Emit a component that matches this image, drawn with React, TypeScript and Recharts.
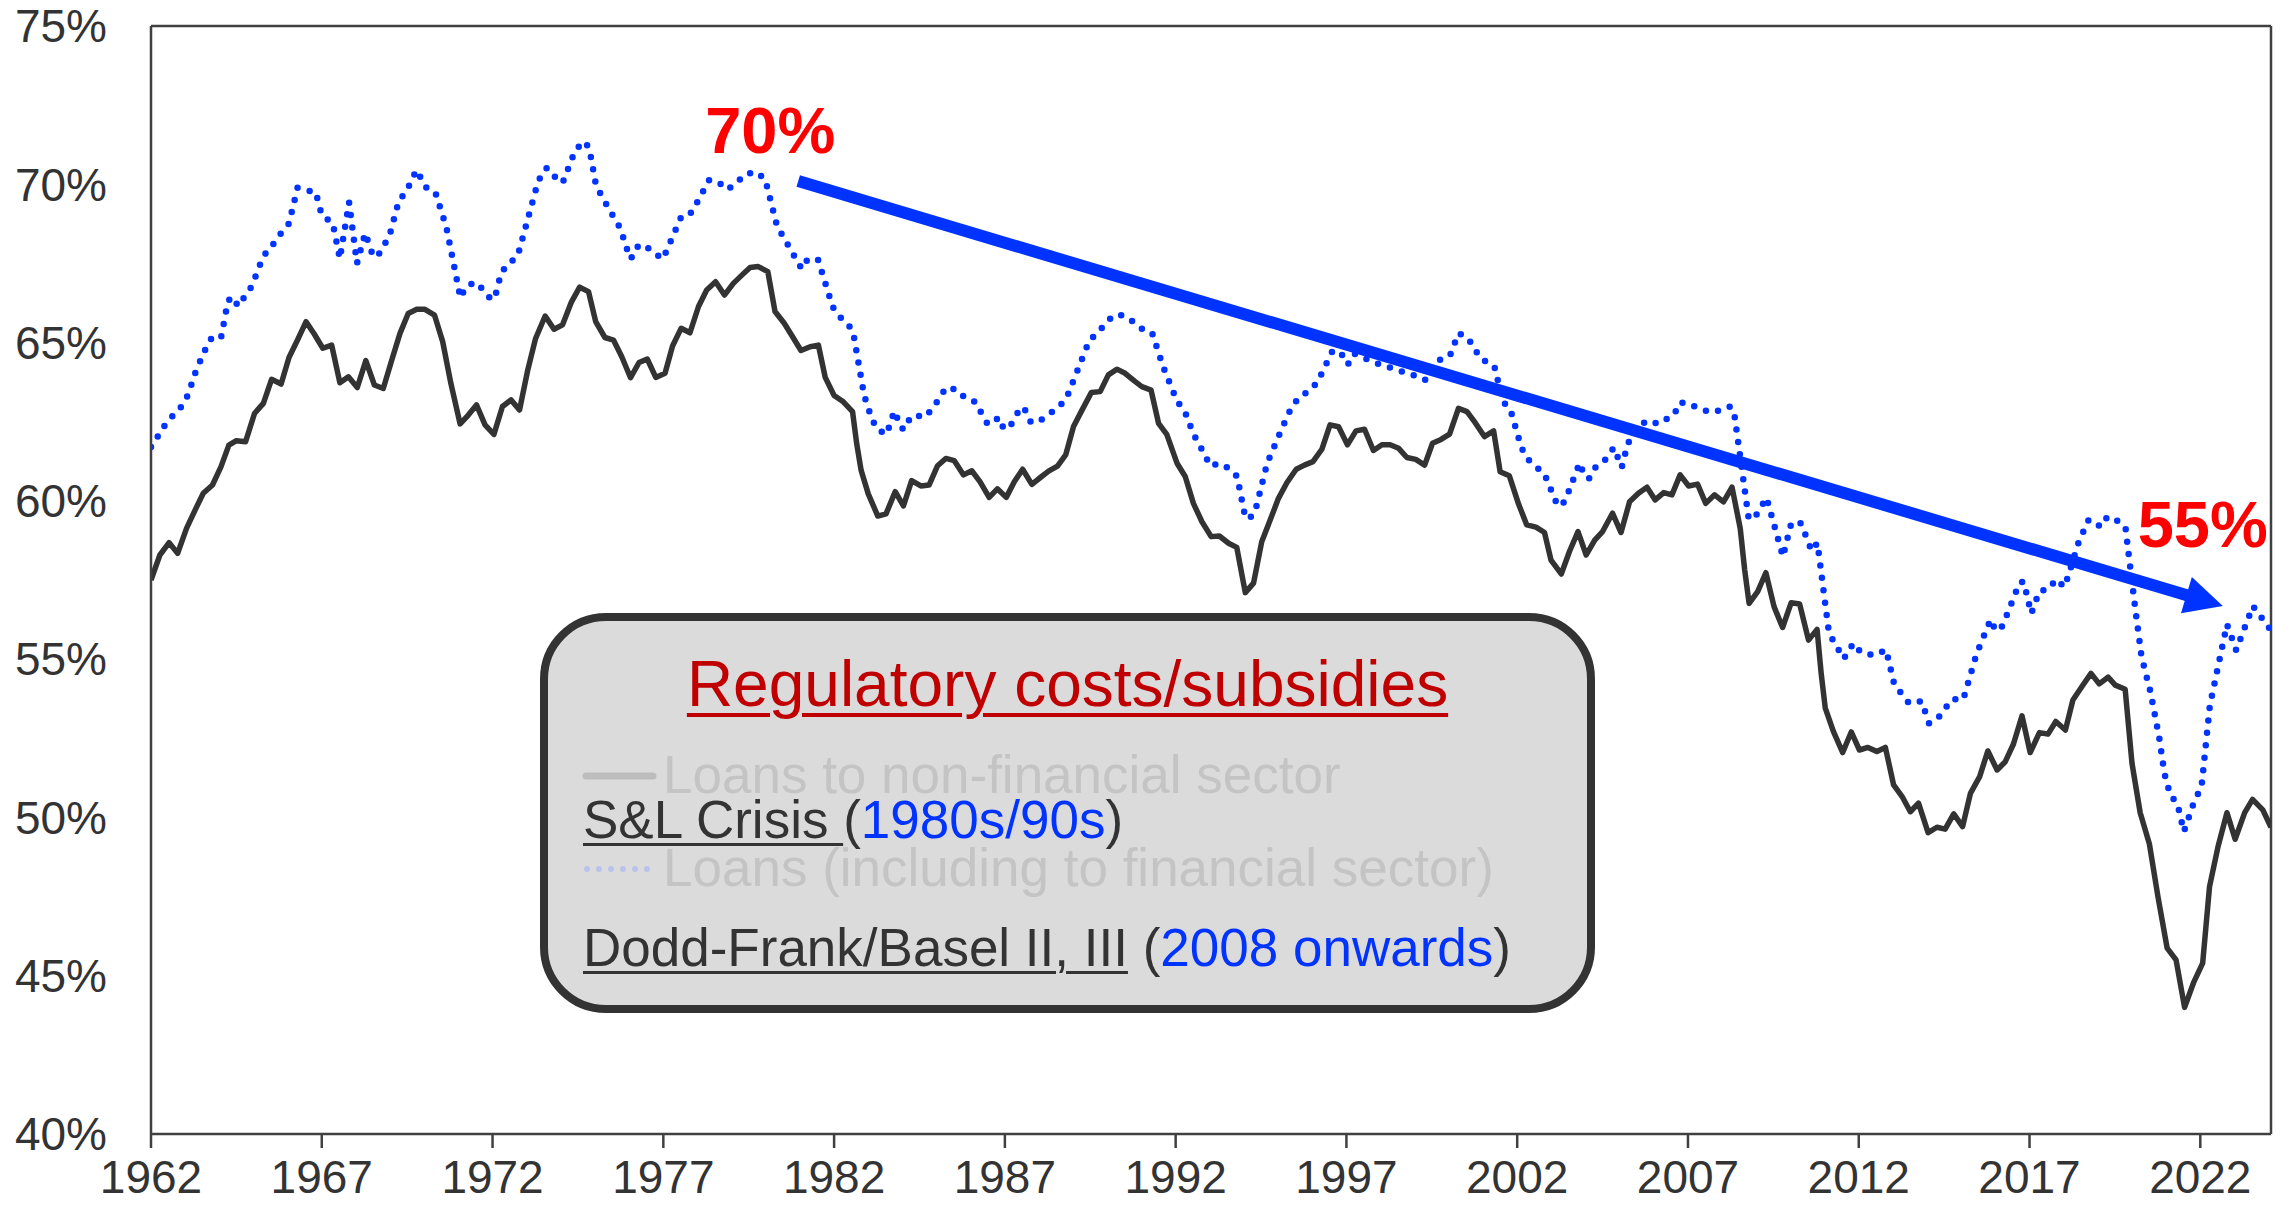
import React from 'react';
import { LineChart, Line, XAxis, YAxis, ReferenceLine, ReferenceDot } from 'recharts';

// Loans to non-financial sector (% of bank assets)
const NONFIN_YEARS = [
  1962.0, 1962.26, 1962.53, 1962.78, 1963.04, 1963.29, 1963.53, 1963.8, 1964.05, 1964.28, 1964.5, 1964.77,
  1965.03, 1965.29, 1965.53, 1965.81, 1966.04, 1966.29, 1966.54, 1966.78, 1967.03, 1967.29, 1967.53, 1967.78,
  1968.04, 1968.29, 1968.54, 1968.8, 1969.05, 1969.29, 1969.53, 1969.78, 1970.02, 1970.3, 1970.54, 1970.78,
  1971.05, 1971.29, 1971.53, 1971.78, 1972.04, 1972.29, 1972.54, 1972.79, 1973.03, 1973.26, 1973.54, 1973.8,
  1974.05, 1974.3, 1974.55, 1974.81, 1975.02, 1975.29, 1975.54, 1975.78, 1976.04, 1976.29, 1976.53, 1976.78,
  1977.05, 1977.27, 1977.52, 1977.78, 1978.03, 1978.27, 1978.53, 1978.79, 1979.05, 1979.3, 1979.54, 1979.78,
  1980.06, 1980.27, 1980.54, 1980.78, 1981.03, 1981.3, 1981.54, 1981.74, 1982.0, 1982.27, 1982.54, 1982.66,
  1982.79, 1983.0, 1983.28, 1983.52, 1983.79, 1984.03, 1984.27, 1984.54, 1984.78, 1985.03, 1985.27, 1985.52,
  1985.79, 1986.03, 1986.27, 1986.54, 1986.78, 1987.04, 1987.28, 1987.52, 1987.79, 1988.03, 1988.28, 1988.54,
  1988.78, 1989.01, 1989.25, 1989.53, 1989.79, 1990.03, 1990.28, 1990.52, 1990.79, 1991.01, 1991.28, 1991.5,
  1991.74, 1992.04, 1992.28, 1992.52, 1992.77, 1993.04, 1993.28, 1993.55, 1993.79, 1994.04, 1994.28, 1994.52,
  1994.77, 1995.01, 1995.26, 1995.53, 1995.77, 1996.02, 1996.28, 1996.52, 1996.77, 1997.03, 1997.28, 1997.53,
  1997.79, 1998.04, 1998.28, 1998.53, 1998.77, 1999.03, 1999.29, 1999.52, 1999.77, 2000.02, 2000.28, 2000.53,
  2000.77, 2001.04, 2001.31, 2001.5, 2001.77, 2002.04, 2002.28, 2002.55, 2002.8, 2002.99, 2003.29, 2003.53,
  2003.78, 2004.02, 2004.27, 2004.5, 2004.79, 2005.04, 2005.29, 2005.55, 2005.8, 2006.04, 2006.29, 2006.53,
  2006.77, 2007.02, 2007.28, 2007.52, 2007.78, 2008.04, 2008.29, 2008.53, 2008.66, 2008.79, 2009.04, 2009.28,
  2009.52, 2009.77, 2010.02, 2010.27, 2010.53, 2010.78, 2010.9, 2011.02, 2011.26, 2011.53, 2011.78, 2012.02,
  2012.27, 2012.53, 2012.78, 2013.02, 2013.27, 2013.51, 2013.75, 2014.03, 2014.29, 2014.53, 2014.78, 2015.04,
  2015.27, 2015.54, 2015.78, 2016.05, 2016.29, 2016.53, 2016.78, 2017.02, 2017.29, 2017.54, 2017.77, 2018.05,
  2018.27, 2018.53, 2018.8, 2019.04, 2019.3, 2019.51, 2019.8, 2020.0, 2020.24, 2020.51, 2020.76, 2021.03,
  2021.29, 2021.54, 2021.81, 2022.07, 2022.27, 2022.52, 2022.78, 2023.02, 2023.3, 2023.53, 2023.83, 2024.07,
];
const NONFIN_VALUES = [
  57.5, 58.29, 58.68, 58.34, 59.13, 59.71, 60.24, 60.5, 61.08, 61.76, 61.9, 61.87,
  62.76, 63.08, 63.84, 63.69, 64.53, 65.08, 65.66, 65.27, 64.82, 64.92, 63.73, 63.92,
  63.58, 64.43, 63.66, 63.55, 64.45, 65.29, 65.92, 66.05, 66.05, 65.87, 65.03, 63.71,
  62.43, 62.71, 63.03, 62.4, 62.1, 62.98, 63.19, 62.87, 64.13, 65.13, 65.84, 65.42,
  65.56, 66.26, 66.75, 66.61, 65.66, 65.16, 65.08, 64.56, 63.89, 64.37, 64.48, 63.9,
  64.03, 64.89, 65.45, 65.31, 66.14, 66.66, 66.92, 66.5, 66.87, 67.13, 67.37, 67.4,
  67.24, 65.98, 65.61, 65.19, 64.75, 64.87, 64.92, 63.9, 63.33, 63.13, 62.82, 61.82,
  60.97, 60.22, 59.52, 59.59, 60.29, 59.84, 60.64, 60.47, 60.5, 61.11, 61.34, 61.27,
  60.82, 60.95, 60.61, 60.11, 60.38, 60.11, 60.61, 61.0, 60.52, 60.73, 60.94, 61.1,
  61.45, 62.35, 62.85, 63.42, 63.45, 63.98, 64.16, 64.03, 63.79, 63.61, 63.5, 62.45,
  62.1, 61.19, 60.77, 59.92, 59.34, 58.87, 58.89, 58.66, 58.53, 57.1, 57.4, 58.71,
  59.4, 60.08, 60.58, 61.0, 61.13, 61.24, 61.63, 62.4, 62.34, 61.77, 62.21, 62.26,
  61.59, 61.77, 61.77, 61.66, 61.37, 61.31, 61.13, 61.82, 61.94, 62.11, 62.92, 62.82,
  62.47, 62.03, 62.21, 60.92, 60.79, 59.9, 59.24, 59.17, 59.0, 58.13, 57.69, 58.4,
  59.03, 58.29, 58.76, 59.03, 59.61, 59.0, 59.97, 60.24, 60.43, 60.03, 60.26, 60.19,
  60.82, 60.47, 60.53, 59.92, 60.19, 59.97, 60.43, 59.13, 57.82, 56.76, 57.13, 57.73,
  56.66, 56.0, 56.78, 56.74, 55.6, 55.94, 54.55, 53.45, 52.71, 52.05, 52.7, 52.13,
  52.21, 52.08, 52.21, 51.03, 50.66, 50.18, 50.45, 49.52, 49.69, 49.63, 50.11, 49.71,
  50.76, 51.29, 52.1, 51.5, 51.76, 52.32, 53.21, 52.05, 52.68, 52.63, 53.03, 52.76,
  53.71, 54.13, 54.55, 54.22, 54.43, 54.18, 54.05, 51.71, 50.15, 49.16, 47.5, 45.87,
  45.5, 44.0, 44.8, 45.4, 47.81, 49.08, 50.15, 49.31, 50.15, 50.57, 50.24, 49.69,
];

// Loans including to financial sector
const TOTAL_YEARS = [
  1962.0, 1962.46, 1962.95, 1963.09, 1963.32, 1963.61, 1963.78, 1964.05, 1964.25, 1964.36, 1964.56, 1964.75,
  1964.95, 1965.21, 1965.37, 1965.6, 1965.81, 1966.04, 1966.29, 1966.58, 1966.82, 1967.0, 1967.32, 1967.53,
  1967.8, 1968.03, 1968.27, 1968.49, 1968.62, 1968.98, 1969.26, 1969.47, 1969.77, 1970.08, 1970.33, 1970.65,
  1971.06, 1971.22, 1971.49, 1971.74, 1971.96, 1972.07, 1972.25, 1972.44, 1972.73, 1973.29, 1973.42, 1973.59,
  1973.83, 1974.05, 1974.43, 1974.71, 1974.84, 1975.03, 1975.38, 1975.74, 1975.96, 1976.05, 1976.21, 1976.43,
  1976.7, 1976.99, 1977.54, 1977.83, 1978.34, 1978.61, 1978.86, 1979.14, 1979.37, 1979.71, 1979.98, 1980.33,
  1981.05, 1981.23, 1981.53, 1981.96, 1982.15, 1982.42, 1982.57, 1982.88, 1983.1, 1983.26, 1983.54, 1983.76,
  1983.98, 1984.1, 1984.22, 1984.4, 1984.65, 1984.89, 1985.28, 1985.6, 1985.84, 1986.13, 1986.47, 1986.64,
  1986.81, 1986.96, 1987.12, 1987.47, 1987.62, 1987.76, 1988.01, 1988.59, 1988.81, 1989.47, 1989.7, 1990.17,
  1990.45, 1990.77, 1991.04, 1991.31, 1991.64, 1992.04, 1992.26, 1992.52, 1992.86, 1993.01, 1993.27, 1993.59,
  1993.8, 1994.01, 1994.14, 1994.33, 1994.68, 1995.1, 1995.39, 1995.61, 1995.91, 1996.15, 1996.6, 1996.87,
  1997.04, 1997.22, 1997.69, 1997.88, 1998.98, 1999.3, 1999.71, 2000.03, 2000.28, 2000.55, 2000.93, 2001.33,
  2001.58, 2001.81, 2002.11, 2002.25, 2002.51, 2002.79, 2003.19, 2003.39, 2003.83, 2003.95, 2004.1, 2004.26,
  2004.55, 2004.83, 2005.06, 2005.24, 2005.63, 2005.87, 2006.11, 2006.61, 2006.72, 2006.9, 2007.42, 2007.65,
  2007.93, 2008.21, 2008.34, 2008.78, 2008.97, 2009.3, 2009.78, 2010.03, 2010.31, 2010.62, 2010.79, 2011.11,
  2011.23, 2011.56, 2011.84, 2011.97, 2012.17, 2012.5, 2012.8, 2013.04, 2013.47, 2013.84, 2014.06, 2014.35,
  2014.73, 2015.06, 2015.45, 2015.86, 2016.01, 2016.21, 2016.71, 2016.83, 2017.05, 2017.29, 2017.58, 2017.77,
  2018.03, 2018.44, 2018.73, 2018.89, 2019.08, 2019.28, 2019.57, 2019.81, 2019.89, 2020.1, 2020.28, 2020.54,
  2020.8, 2020.95, 2021.12, 2021.33, 2021.52, 2021.85, 2022.03, 2022.28, 2022.78, 2023.05, 2023.54, 2023.96,
  2024.07,
];
const TOTAL_VALUES = [
  61.7, 62.48, 63.05, 63.37, 64.12, 64.83, 65.16, 65.15, 66.29, 66.45, 66.15, 66.47,
  66.78, 67.51, 67.85, 68.14, 68.46, 68.76, 69.89, 69.8, 69.76, 69.02, 68.78, 67.65,
  69.43, 67.5, 68.46, 67.77, 67.7, 68.37, 69.49, 69.76, 70.45, 69.86, 69.73, 68.63,
  66.41, 66.76, 66.91, 66.66, 66.35, 66.43, 67.19, 67.48, 67.71, 69.92, 70.29, 70.52,
  70.23, 70.04, 71.1, 71.35, 71.09, 69.96, 69.27, 68.61, 67.87, 67.64, 68.01, 68.1,
  67.85, 67.64, 69.01, 69.11, 70.13, 70.07, 69.83, 70.03, 70.3, 70.39, 70.17, 68.68,
  67.33, 67.64, 67.61, 66.13, 65.83, 65.58, 65.25, 63.33, 62.6, 62.26, 62.1, 62.84,
  62.29, 62.27, 62.63, 62.7, 62.64, 62.92, 63.58, 63.51, 63.24, 63.13, 62.47, 62.43,
  62.64, 62.29, 62.29, 62.97, 62.84, 62.48, 62.52, 62.97, 63.26, 65.06, 65.3, 65.86,
  65.86, 65.65, 65.41, 65.31, 64.22, 63.15, 62.85, 62.11, 61.44, 61.1, 61.18, 61.01,
  60.77, 59.63, 59.41, 59.68, 61.19, 62.26, 62.95, 63.26, 63.48, 63.74, 64.76, 64.61,
  64.3, 64.65, 64.43, 64.35, 63.96, 63.82, 64.44, 64.58, 65.3, 65.16, 64.49, 64.26,
  63.15, 62.85, 61.73, 61.38, 61.11, 60.87, 59.83, 59.97, 61.2, 60.84, 60.7, 61.03,
  61.26, 61.68, 61.06, 61.82, 62.43, 62.54, 62.43, 62.73, 63.08, 63.11, 62.89, 62.8,
  62.86, 62.98, 62.87, 59.42, 59.5, 60.1, 58.24, 59.32, 59.29, 58.42, 58.67, 55.98,
  55.63, 55.01, 55.5, 55.31, 55.16, 55.13, 55.3, 54.2, 53.61, 53.67, 52.97, 53.18,
  53.74, 53.73, 55.17, 56.25, 55.89, 56.05, 57.42, 57.45, 56.44, 57.15, 57.22, 57.52,
  57.28, 58.7, 59.4, 59.34, 59.18, 59.5, 59.37, 59.16, 58.42, 56.56, 55.07, 53.97,
  52.5, 51.39, 50.71, 50.43, 49.55, 50.6, 50.91, 53.54, 56.1, 55.28, 56.68, 56.07,
  55.9,
];

const X_TICKS = [1962, 1967, 1972, 1977, 1982, 1987, 1992, 1997, 2002, 2007, 2012, 2017, 2022];
const Y_TICKS = [40, 45, 50, 55, 60, 65, 70, 75];

// trend arrow and its end labels
const ARROW_FROM = { x: 1980.95, y: 70.1 };
const ARROW_TO = { x: 2022.66, y: 56.68 };
const LABELS = [
  { x: 1980.13, y: 70.99, text: '70%' },
  { x: 2022.07, y: 58.54, text: '55%' },
];

const FONT = '"Liberation Sans", Arial, sans-serif';
const DARK = '#333333';
const BLUE = '#0033FF';
const LAST_YEAR = NONFIN_YEARS[NONFIN_YEARS.length - 1];

const nonFinData = NONFIN_YEARS.map((year, i) => ({ year, value: NONFIN_VALUES[i] }));
const totalData = TOTAL_YEARS.map((year, i) => ({ year, value: TOTAL_VALUES[i] }));

const ArrowShape = (props: any) => {
  const { x1, y1, x2, y2 } = props;
  const dx = x2 - x1;
  const dy = y2 - y1;
  const len = Math.sqrt(dx * dx + dy * dy);
  const ux = dx / len;
  const uy = dy / len;
  const head = 38;
  const half = 19;
  const bx = x2 - ux * head;
  const by = y2 - uy * head;
  return (
    <g>
      <line x1={x1} y1={y1} x2={bx + ux * 4} y2={by + uy * 4} stroke={BLUE} strokeWidth={12} />
      <polygon
        points={`${x2},${y2} ${bx - uy * half},${by + ux * half} ${bx + uy * half},${by - ux * half}`}
        fill={BLUE}
      />
    </g>
  );
};

const pos = (top: number, left: number, size: number): React.CSSProperties => ({
  position: 'absolute',
  top: top - size * 0.8465,
  left,
  fontSize: size,
  lineHeight: 1,
  whiteSpace: 'nowrap',
});

const underline = (offset: number, thickness: number): React.CSSProperties => ({
  textDecoration: 'underline',
  textUnderlineOffset: offset,
  textDecorationThickness: thickness,
});

const App: React.FC = () => {
  return (
    <div style={{ position: 'absolute', left: 0, top: 0, width: 2287, height: 1212, background: '#fff', fontFamily: FONT }}>
      <LineChart width={2287} height={1212} margin={{ top: 26, right: 16, bottom: 0, left: 0 }}>
        <XAxis
          type="number"
          dataKey="year"
          domain={[1962, LAST_YEAR]}
          ticks={X_TICKS}
          interval={0}
          height={78}
          tickSize={14}
          tickMargin={12}
          stroke="#404040"
          strokeWidth={2.5}
          tick={{ fill: DARK, fontSize: 46, fontFamily: FONT }}
          allowDataOverflow
        />
        <YAxis
          type="number"
          domain={[40, 75]}
          ticks={Y_TICKS}
          interval={0}
          width={151}
          tickSize={0}
          tickMargin={44}
          tickFormatter={(v: number) => `${v}%`}
          stroke="#404040"
          strokeWidth={2.5}
          tick={{ fill: DARK, fontSize: 46, fontFamily: FONT }}
          allowDataOverflow
        />
        <ReferenceLine y={75} stroke="#404040" strokeWidth={2.5} />
        <ReferenceLine x={LAST_YEAR} stroke="#404040" strokeWidth={2.5} />
        <Line
          data={totalData}
          dataKey="value"
          type="linear"
          stroke={BLUE}
          strokeWidth={6.5}
          strokeDasharray="0 12.5"
          strokeLinecap="round"
          dot={false}
          isAnimationActive={false}
        />
        <Line
          data={nonFinData}
          dataKey="value"
          type="linear"
          stroke={DARK}
          strokeWidth={5.5}
          strokeLinejoin="round"
          dot={false}
          isAnimationActive={false}
        />
        <ReferenceLine segment={[ARROW_FROM, ARROW_TO]} shape={ArrowShape} />
        {LABELS.map((l) => (
          <ReferenceDot
            key={l.text}
            x={l.x}
            y={l.y}
            r={0}
            shape={(p: any) => (
              <text x={p.cx} y={p.cy} textAnchor="middle" fill="#FF0000" fontSize={65} fontWeight="bold" fontFamily={FONT}>
                {l.text}
              </text>
            )}
          />
        ))}
      </LineChart>

      {/* legend box */}
      <div
        style={{
          position: 'absolute',
          left: 540,
          top: 613,
          width: 1055,
          height: 400,
          boxSizing: 'border-box',
          border: `8px solid ${DARK}`,
          borderRadius: 66,
          background: '#DBDBDB',
        }}
      />
      <div style={{ ...pos(706.6, 540, 64), width: 1055, textAlign: 'center', color: '#C00000' }}>
        <span style={underline(7, 4)}>Regulatory costs/subsidies</span>
      </div>
      <svg style={{ position: 'absolute', left: 0, top: 0 }} width={2287} height={1212}>
        <line x1={586} y1={776} x2={653} y2={776} stroke="#BDBDBD" strokeWidth={7} strokeLinecap="round" />
        <line x1={587} y1={869} x2={650} y2={869} stroke="#B9C2EA" strokeWidth={6} strokeDasharray="0 12" strokeLinecap="round" />
      </svg>
      <div style={{ ...pos(793, 663, 53), color: '#C4C4C4' }}>Loans to non-financial sector</div>
      <div style={{ ...pos(838, 583, 53), color: DARK }}>
        <span style={underline(5, 3)}>S&amp;L Crisis </span>(<span style={{ color: BLUE }}>1980s/90s</span>)
      </div>
      <div style={{ ...pos(886, 663, 53), color: '#C4C4C4' }}>Loans (including to financial sector)</div>
      <div style={{ ...pos(965.5, 583, 53), color: DARK }}>
        <span style={underline(5, 3)}>Dodd-Frank/Basel II, III</span> (<span style={{ color: BLUE }}>2008 onwards</span>)
      </div>
    </div>
  );
};

export default App;
